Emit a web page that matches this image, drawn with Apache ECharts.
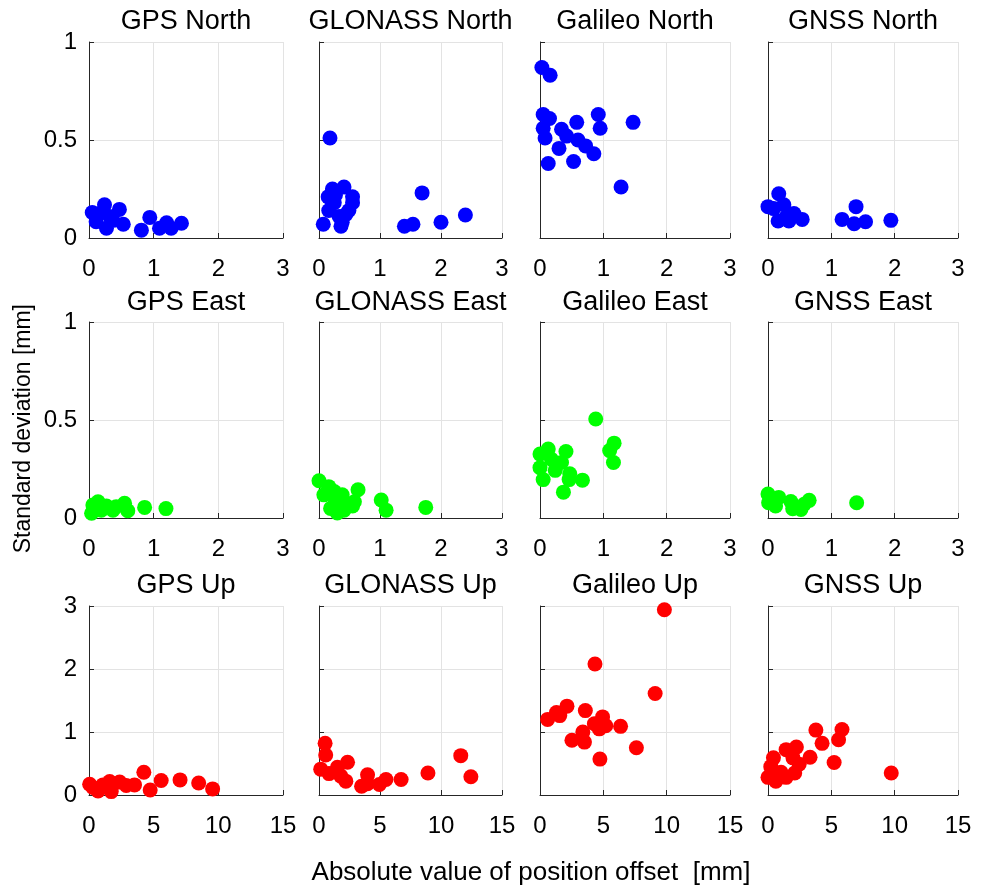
<!DOCTYPE html>
<html>
<head>
<meta charset="utf-8">
<title>Standard deviation vs position offset</title>
<script src="https://cdn.jsdelivr.net/npm/echarts@6/dist/echarts.min.js"></script>
<style>
  html, body { margin: 0; padding: 0; background: #fff; }
  #main { width: 984px; height: 893px; }
</style>
</head>
<body>
<div id="main"></div>
<script>
// [offset, std] pairs, one list per panel
var gpsNorth = [[0.05,0.13],[0.24,0.17],[0.11,0.083],[0.27,0.05],[0.47,0.146],[0.53,0.07],[0.32,0.11],[0.16,0.125],[0.37,0.09],[0.81,0.04],[0.94,0.105],[1.09,0.05],[1.2,0.078],[1.27,0.05],[1.43,0.075]];
var glonassNorth = [[0.18,0.51],[0.07,0.07],[0.22,0.25],[0.15,0.21],[0.41,0.26],[0.55,0.21],[0.55,0.18],[0.49,0.14],[0.16,0.14],[0.25,0.18],[0.38,0.08],[0.36,0.06],[0.33,0.11],[0.27,0.22],[0.44,0.12],[1.4,0.06],[1.54,0.07],[1.69,0.23],[2.0,0.08],[2.4,0.117]];
var galileoNorth = [[0.03,0.87],[0.16,0.83],[0.05,0.63],[0.15,0.61],[0.05,0.56],[0.08,0.51],[0.34,0.555],[0.42,0.52],[0.58,0.59],[0.6,0.5],[0.72,0.47],[0.85,0.43],[0.3,0.457],[0.13,0.38],[0.53,0.39],[0.92,0.63],[0.95,0.56],[1.47,0.59],[1.28,0.26]];
var gnssNorth = [[0.17,0.226],[0.0,0.16],[0.25,0.17],[0.16,0.087],[0.28,0.104],[0.41,0.125],[0.54,0.095],[0.33,0.087],[0.09,0.15],[1.17,0.095],[1.39,0.16],[1.36,0.073],[1.54,0.083],[1.94,0.09]];

var gpsEast = [[0.04,0.024],[0.06,0.066],[0.14,0.083],[0.27,0.061],[0.37,0.04],[0.42,0.058],[0.55,0.075],[0.6,0.037],[0.19,0.04],[0.86,0.054],[1.19,0.048]];
var glonassEast = [[0.0,0.19],[0.16,0.16],[0.08,0.118],[0.25,0.135],[0.38,0.118],[0.19,0.049],[0.3,0.026],[0.41,0.04],[0.55,0.061],[0.58,0.083],[0.64,0.144],[0.27,0.083],[0.44,0.075],[1.02,0.092],[1.1,0.04],[1.75,0.054]];
var galileoEast = [[0.88,0.505],[0.0,0.326],[0.13,0.352],[0.41,0.339],[0.0,0.257],[0.05,0.196],[0.24,0.243],[0.34,0.283],[0.18,0.3],[0.47,0.226],[0.46,0.196],[0.67,0.193],[0.37,0.132],[1.17,0.382],[1.1,0.344],[1.16,0.283]];
var gnssEast = [[0.0,0.122],[0.01,0.078],[0.12,0.061],[0.17,0.105],[0.36,0.084],[0.39,0.047],[0.52,0.044],[0.57,0.07],[0.65,0.09],[1.4,0.078]];

var gpsUp = [[0.05,0.17],[0.3,0.12],[0.7,0.065],[1.6,0.215],[1.72,0.054],[2.37,0.205],[2.88,0.15],[3.52,0.16],[4.24,0.36],[4.73,0.08],[5.58,0.23],[7.04,0.24],[8.48,0.19],[9.56,0.097],[1.08,0.16]];
var glonassUp = [[0.5,0.82],[0.55,0.635],[0.14,0.41],[0.82,0.34],[1.51,0.44],[2.34,0.52],[2.2,0.22],[1.79,0.3],[3.49,0.14],[3.98,0.32],[3.98,0.18],[4.95,0.167],[5.49,0.245],[6.73,0.245],[8.93,0.35],[11.62,0.625],[12.45,0.29]];
var galileoUp = [[9.82,2.94],[4.34,2.08],[9.09,1.61],[0.6,1.2],[1.3,1.31],[1.56,1.26],[2.13,1.41],[3.58,1.34],[4.94,1.24],[4.29,1.13],[4.68,1.05],[5.19,1.1],[6.36,1.09],[3.38,1.0],[2.52,0.87],[3.51,0.84],[7.61,0.75],[4.73,0.57]];
var gnssUp = [[3.78,1.03],[5.84,1.04],[4.27,0.82],[5.57,0.876],[5.22,0.515],[3.32,0.6],[2.24,0.76],[1.43,0.72],[0.43,0.59],[0.22,0.45],[0.0,0.28],[0.62,0.22],[1.43,0.28],[2.11,0.35],[2.46,0.49],[1.97,0.59],[1.03,0.36],[9.73,0.35]];

var panelTitles = ['GPS North','GLONASS North','Galileo North','GNSS North',
                   'GPS East','GLONASS East','Galileo East','GNSS East',
                   'GPS Up','GLONASS Up','Galileo Up','GNSS Up'];
var panelData = [gpsNorth, glonassNorth, galileoNorth, gnssNorth,
                 gpsEast, glonassEast, galileoEast, gnssEast,
                 gpsUp, glonassUp, galileoUp, gnssUp];
var rowColors = ['#0000ff', '#00ff00', '#ff0000'];
// axis ranges per row: [xMax, xStep, yMax, yStep]
var rowRanges = [[3, 1, 1, 0.5], [3, 1, 1, 0.5], [15, 5, 3, 1]];

// plot box layout
var colLeft = [89, 319, 540, 768];
var colWidth = [194, 183, 190, 190];
var rowTop = [42, 322, 606];
var rowHeight = [196, 196, 189];
var titleY = [23, 304, 587];

var FONT = 'Liberation Sans, Arial, Helvetica, sans-serif';
var chart = echarts.init(document.getElementById('main'));

var grids = [], xAxes = [], yAxes = [], series = [], titles = [];
for (var i = 0; i < 12; i++) {
  var r = Math.floor(i / 4), c = i % 4;
  var rng = rowRanges[r];
  grids.push({ left: colLeft[c], top: rowTop[r], width: colWidth[c], height: rowHeight[r] });
  var common = {
    axisLine: { show: true, lineStyle: { color: '#262626', width: 1 } },
    axisTick: { show: true, inside: true, length: 5, lineStyle: { color: '#262626' } },
    splitLine: { show: true, lineStyle: { color: '#e3e3e3', width: 1 } }
  };
  xAxes.push(Object.assign({
    gridIndex: i, type: 'value', min: 0, max: rng[0], interval: rng[1],
    axisLabel: { show: true, color: '#000', fontSize: 24, fontFamily: FONT, margin: 19 }
  }, common));
  yAxes.push(Object.assign({
    gridIndex: i, type: 'value', min: 0, max: rng[2], interval: rng[3],
    axisLabel: { show: c === 0, color: '#000', fontSize: 24, fontFamily: FONT, margin: 12 }
  }, common));
  series.push({
    type: 'scatter', xAxisIndex: i, yAxisIndex: i,
    data: panelData[i], symbol: 'circle', symbolSize: 15, clip: false,
    itemStyle: { color: rowColors[r], opacity: 1 }
  });
  titles.push({
    text: panelTitles[i], left: colLeft[c] + colWidth[c] / 2, top: titleY[r] - 15,
    textAlign: 'center', padding: 0,
    textStyle: { color: '#000', fontSize: 27, fontWeight: 'normal', fontFamily: FONT }
  });
}

chart.setOption({
  backgroundColor: '#fff',
  animation: false,
  title: titles,
  grid: grids,
  xAxis: xAxes,
  yAxis: yAxes,
  series: series,
  graphic: [
    { type: 'text', left: 12, top: 304, rotation: Math.PI / 2, silent: true,
      style: { text: 'Standard deviation [mm]', fill: '#000', font: '23px ' + FONT } },
    { type: 'text', x: 531, y: 873, silent: true,
      style: { text: 'Absolute value of position offset  [mm]', fill: '#000', font: '26px ' + FONT,
               textAlign: 'center', textVerticalAlign: 'middle' } }
  ]
});
</script>
</body>
</html>
